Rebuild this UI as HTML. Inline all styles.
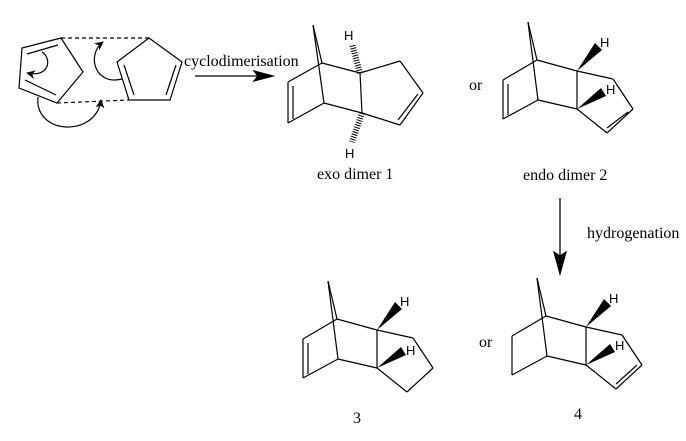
<!DOCTYPE html>
<html><head><style>
html,body{margin:0;padding:0;background:#fff;}
svg{display:block;}
text{font-family:"Liberation Serif",serif;fill:#000;}
.h{font-family:"Liberation Sans",sans-serif;font-size:13px;}
</style></head><body>
<svg width="686" height="441" viewBox="0 0 686 441" xmlns="http://www.w3.org/2000/svg">
<defs>
<marker id="ah" viewBox="0 0 10 10" refX="9" refY="5" markerWidth="9" markerHeight="9" markerUnits="userSpaceOnUse" orient="auto"><path d="M0,0 L10,5 L0,10 L3,5 z" fill="#000"/></marker>
<g id="endo">
 <line x1="528" y1="22" x2="537" y2="60"/>
 <line x1="528" y1="22" x2="538" y2="100"/>
 <line x1="537" y1="60" x2="503" y2="80"/>
 <line x1="503" y1="80" x2="503" y2="119"/>
 <line x1="503" y1="119" x2="538" y2="100"/>
 <line x1="537" y1="60" x2="577" y2="71"/>
 <line x1="538" y1="100" x2="577" y2="109"/>
 <line x1="577" y1="71" x2="577" y2="109"/>
 <line x1="577" y1="71" x2="613" y2="79"/>
 <line x1="613" y1="79" x2="633" y2="109"/>
 <line x1="633" y1="109" x2="607" y2="133"/>
 <line x1="607" y1="133" x2="577" y2="109"/>
 <polygon points="577,71 595,43 602,50" fill="#000" stroke="none"/>
 <polygon points="577,109 601,88 606,96" fill="#000" stroke="none"/>
</g>
</defs>
<g stroke="#000" stroke-width="1.2" fill="none">
 <polygon points="61,38 83,72 57,103 19,88 22,48"/>
 <line x1="27" y1="54" x2="58" y2="45"/>
 <line x1="25" y1="80" x2="56" y2="95"/>
 <polygon points="149,38 182,62 170,100 129,100 117,62"/>
 <line x1="124" y1="65" x2="134" y2="95"/>
 <line x1="176" y1="65" x2="166" y2="95"/>
 <line x1="61" y1="38" x2="149" y2="38" stroke-dasharray="4,3"/>
 <line x1="57" y1="103" x2="129" y2="100" stroke-dasharray="4,3"/>
 <path d="M42,52 C52,58 50,78 27,73" marker-end="url(#ah)"/>
 <path d="M122,79 C95,86 86,55 103,42" marker-end="url(#ah)"/>
 <path d="M38,97 C34,135 96,138 101,100" marker-end="url(#ah)"/>
 <line x1="195" y1="76" x2="258" y2="76" stroke-width="1.3"/>
 <polygon points="254,71 273,76 254,81 258,76" fill="#000"/>
 <line x1="313" y1="25" x2="322" y2="63"/>
 <line x1="313" y1="25" x2="324" y2="103"/>
 <line x1="322" y1="63" x2="288" y2="82"/>
 <line x1="288" y1="82" x2="288" y2="123"/>
 <line x1="293" y1="86" x2="293" y2="119"/>
 <line x1="288" y1="123" x2="324" y2="103"/>
 <line x1="322" y1="63" x2="360" y2="73"/>
 <line x1="324" y1="103" x2="362" y2="113"/>
 <line x1="360" y1="73" x2="362" y2="113"/>
 <line x1="360" y1="73" x2="400" y2="61"/>
 <line x1="400" y1="61" x2="423" y2="93"/>
 <line x1="423" y1="93" x2="400" y2="125"/>
 <line x1="418" y1="94" x2="398" y2="120"/>
 <line x1="400" y1="125" x2="362" y2="113"/>
 <line x1="360" y1="73" x2="352" y2="44" stroke-width="6" stroke-dasharray="1,1.5"/>
 <line x1="362" y1="113" x2="352" y2="142" stroke-width="6" stroke-dasharray="1,1.5"/>
 <use href="#endo"/>
 <line x1="508" y1="84" x2="508" y2="115"/>
 <line x1="628" y1="112" x2="607" y2="128"/>
 <line x1="560" y1="198" x2="560" y2="256" stroke-width="1.3"/>
 <polygon points="554,252 560,274 566,252 560,256" fill="#000"/>
 <use href="#endo" transform="translate(-200,259)"/>
 <line x1="308" y1="343" x2="308" y2="374"/>
 <use href="#endo" transform="translate(9,256)"/>
 <line x1="637" y1="365" x2="616" y2="384"/>
</g>
<text x="184" y="66" font-size="16">cyclodimerisation</text>
<text class="h" x="344" y="40">H</text>
<text class="h" x="345" y="158">H</text>
<text x="317" y="179" font-size="16">exo dimer 1</text>
<text x="469" y="90" font-size="16">or</text>
<text class="h" x="600" y="47">H</text>
<text class="h" x="606" y="94">H</text>
<text x="523" y="180" font-size="16">endo dimer 2</text>
<text x="587" y="238" font-size="16">hydrogenation</text>
<text class="h" x="400" y="306">H</text>
<text class="h" x="406" y="355">H</text>
<text x="353" y="423" font-size="16">3</text>
<text x="479" y="347" font-size="16">or</text>
<text class="h" x="609" y="303">H</text>
<text class="h" x="615" y="350">H</text>
<text x="574" y="419" font-size="16">4</text>
</svg>
</body></html>
